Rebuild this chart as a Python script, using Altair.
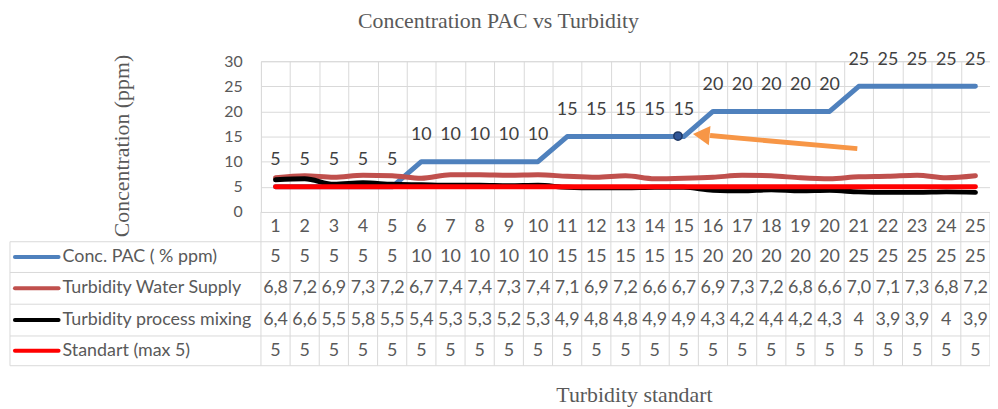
import altair as alt
import pandas as pd

# ---------------- data ----------------
categories = [1, 2, 3, 4, 5, 6, 7, 8, 9, 10, 11, 12, 13, 14, 15, 16, 17, 18, 19, 20, 21, 22, 23, 24, 25]
conc_pac = [5, 5, 5, 5, 5, 10, 10, 10, 10, 10, 15, 15, 15, 15, 15, 20, 20, 20, 20, 20, 25, 25, 25, 25, 25]
water_supply = [6.8, 7.2, 6.9, 7.3, 7.2, 6.7, 7.4, 7.4, 7.3, 7.4, 7.1, 6.9, 7.2, 6.6, 6.7,
                6.9, 7.3, 7.2, 6.8, 6.6, 7.0, 7.1, 7.3, 6.8, 7.2]
process_mixing = [6.4, 6.6, 5.5, 5.8, 5.5, 5.4, 5.3, 5.3, 5.2, 5.3, 4.9, 4.8, 4.8, 4.9, 4.9,
                  4.3, 4.2, 4.4, 4.2, 4.3, 4.0, 3.9, 3.9, 4.0, 3.9]
standart = [5, 5, 5, 5, 5, 5, 5, 5, 5, 5, 5, 5, 5, 5, 5, 5, 5, 5, 5, 5, 5, 5, 5, 5, 5]

series_names = ["Conc. PAC ( % ppm)", "Turbidity Water Supply",
                "Turbidity process mixing", "Standart (max 5)"]
series_colors = ["#4F81BD", "#C0504D", "#000000", "#FF0000"]
y_ticks = [0, 5, 10, 15, 20, 25, 30]

# annotation (highlighted point and orange arrow), in data units
marker_pt = {"x": [14.8], "y": [15.1]}
arrow_line = {"x": [20.95, 15.9], "y": [12.6, 15.2]}
arrow_head = {"x": [15.6], "y": [15.35]}

# ---------------- helpers ----------------
W, H = 735, 152
GRID = "#d9d9d9"
TXT = "#595959"
SANS = "Lato"
SERIF = "Liberation Serif"


def fmt_dec(v):
    return f"{v:.1f}".replace(".", ",")


def fmt_short(v):
    return str(int(v)) if float(v).is_integer() else f"{v:.1f}".replace(".", ",")


df = pd.DataFrame({
    "x": categories,
    "conc": conc_pac,
    "water": water_supply,
    "mixing": process_mixing,
    "std": standart,
    "cat_lbl": [str(c) for c in categories],
    "conc_lbl": [str(v) for v in conc_pac],
    "water_lbl": [fmt_dec(v) for v in water_supply],
    "mixing_lbl": [fmt_short(v) for v in process_mixing],
    "std_lbl": [str(v) for v in standart],
})
bounds = [c - 0.5 for c in categories] + [categories[-1] + 0.5]
bounds_df = pd.DataFrame({"b": bounds})
one = pd.DataFrame({"k": [0]})

xscale = alt.Scale(domain=[categories[0] - 0.5, categories[-1] + 0.5], nice=False, zero=False)
yscale = alt.Scale(domain=[0, 30], nice=False, zero=True)

x_axis = alt.Axis(values=bounds, grid=True, gridColor=GRID, gridWidth=1,
                  labels=False, ticks=False, domain=False,
                  title="Turbidity standart", titleFont=SERIF, titleFontSize=22,
                  titleFontWeight="normal", titleColor=TXT,
                  titleX=376, titleY=184, titleAlign="center", titleBaseline="middle")
y_axis = alt.Axis(values=y_ticks, grid=True, gridColor=GRID, gridWidth=1,
                  ticks=False, domain=False, labelFont=SANS, labelFontSize=16,
                  labelColor=TXT, labelPadding=19,
                  title="Concentration (ppm)", titleFont=SERIF, titleFontSize=22,
                  titleFontWeight="normal", titleColor=TXT, titleAngle=270,
                  titleX=-141, titleY=85, titleAlign="center", titleBaseline="middle")


def X(field):
    return alt.X(field, scale=xscale, axis=x_axis)


def Y(field):
    return alt.Y(field, scale=yscale, axis=y_axis)


base = alt.Chart(df)
layers = []

# series lines (first layer carries both axes)
layers.append(base.mark_line(color=series_colors[0], strokeWidth=5, strokeCap="round",
                             strokeJoin="round").encode(x=X("x:Q"), y=Y("conc:Q")))
layers.append(base.mark_line(color=series_colors[1], strokeWidth=5, strokeCap="round",
                             interpolate="monotone").encode(x=X("x:Q"), y=Y("water:Q")))
layers.append(base.mark_line(color=series_colors[2], strokeWidth=5, strokeCap="round",
                             interpolate="monotone").encode(x=X("x:Q"), y=Y("mixing:Q")))
layers.append(base.mark_line(color=series_colors[3], strokeWidth=5,
                             strokeCap="round").encode(x=X("x:Q"), y=Y("std:Q")))

# table vertical lines (column boundaries through header + rows)
layers.append(alt.Chart(bounds_df).mark_rule(color=GRID, strokeWidth=1).encode(
    x=X("b:Q"), y=alt.value(H), y2=alt.value(307)))
# left border of legend column
layers.append(alt.Chart(one).mark_rule(color=GRID, strokeWidth=1).encode(
    x=alt.value(-253), y=alt.value(182), y2=alt.value(307)))
# table horizontal lines
for yy in [182, 213, 245, 277, 307]:
    layers.append(alt.Chart(one).mark_rule(color=GRID, strokeWidth=1).encode(
        x=alt.value(-253), x2=alt.value(W), y=alt.value(yy)))

# data labels for PAC concentration
layers.append(base.mark_text(font=SANS, fontSize=18, color="#404040", dy=-27,
                             baseline="middle", align="center").encode(
    x=X("x:Q"), y=Y("conc:Q"), text="conc_lbl:N"))

# annotation: marker and orange arrow
layers.append(alt.Chart(pd.DataFrame(marker_pt)).mark_point(
    shape="circle", size=70, filled=True, fill="#2F5597", stroke="#1F3864",
    strokeWidth=1.5, opacity=1).encode(x=X("x:Q"), y=Y("y:Q")))
layers.append(alt.Chart(pd.DataFrame(arrow_line)).mark_line(
    color="#F79646", strokeWidth=5).encode(x=X("x:Q"), y=Y("y:Q")))
layers.append(alt.Chart(pd.DataFrame(arrow_head)).mark_point(
    shape="triangle-left", size=380, filled=True, color="#F79646", opacity=1,
    angle=5).encode(x=X("x:Q"), y=Y("y:Q")))

# data table: header and rows
row_fields = [("cat_lbl", 167), ("conc_lbl", 197.5), ("water_lbl", 229),
              ("mixing_lbl", 261), ("std_lbl", 292)]
for field, yy in row_fields:
    layers.append(base.mark_text(font=SANS, fontSize=18, color=TXT, baseline="middle",
                                 align="center").encode(
        x=X("x:Q"), y=alt.value(yy), text=f"{field}:N"))

# legend column: swatches and names
for name, col, (_, yy) in zip(series_names, series_colors, row_fields[1:]):
    layers.append(alt.Chart(one).mark_rule(color=col, strokeWidth=4, strokeCap="round").encode(
        x=alt.value(-248), x2=alt.value(-204), y=alt.value(yy)))
    layers.append(alt.Chart(pd.DataFrame({"name": [name]})).mark_text(
        font=SANS, fontSize=18, color=TXT, align="left", baseline="middle").encode(
        x=alt.value(-200), y=alt.value(yy), text="name:N"))

chart = alt.layer(*layers).properties(
    width=W, height=H,
    title=alt.TitleParams("Concentration PAC vs Turbidity", font=SERIF, fontSize=22,
                          fontWeight="normal", color=TXT, anchor="middle", frame="group",
                          dx=-128, offset=18),
    padding={"left": 255, "top": 52, "right": 0, "bottom": 196},
    autosize=alt.AutoSizeParams(type="none"),
).configure_view(stroke=None).configure(background="white")

chart.save("out.html", embed_options={"renderer": "svg", "actions": False})
